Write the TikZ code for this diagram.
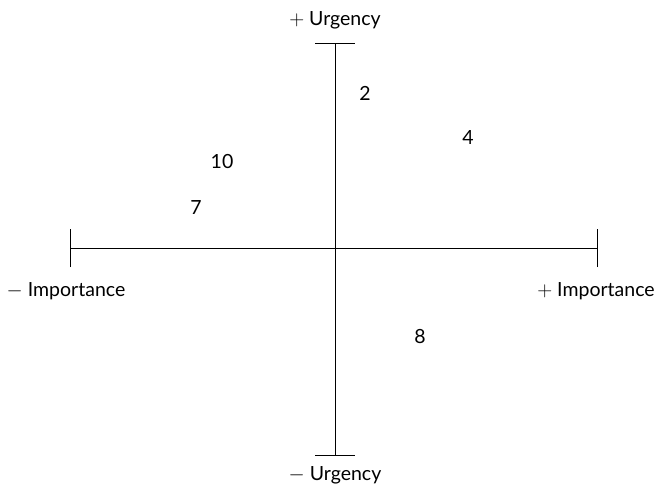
\documentclass[tikz,border=0pt]{standalone}
\usepackage{fontspec}
\setmainfont{Lato}
\begin{document}
\begin{tikzpicture}[x=1pt,y=-1pt,
  axis/.style={line width=1pt,black},
  lbl/.style={font=\fontsize{19.5}{22}\selectfont,inner sep=0pt},
  num/.style={font=\fontsize{19.5}{22}\selectfont,inner sep=0pt}]
\useasboundingbox (0,0) rectangle (657,488);
% axis end points
\coordinate (top) at (335,43);
\coordinate (bot) at (335,455);
\coordinate (lft) at (70,248);
\coordinate (rgt) at (597,248);
\draw[axis] (top) -- (bot);
\draw[axis] (lft) -- (rgt);
\draw[axis] ([xshift=-20]top) -- ([xshift=20]top);
\draw[axis] ([xshift=-20]bot) -- ([xshift=20]bot);
\draw[axis] ([yshift=-19]lft) -- ([yshift=19]lft);
\draw[axis] ([yshift=-19]rgt) -- ([yshift=19]rgt);
% labels
\node[lbl] (uplus) at (335,20) {$+$ Urgency};
\node[lbl] (uminus) at (335,475) {$-$ Urgency};
\node[lbl] (iminus) at (66,291) {$-$ Importance};
\node[lbl] (iplus) at (596,291) {$+$ Importance};
% numbers
\node[num] (n2) at (365,93) {2};
\node[num] (n4) at (468,138) {4};
\node[num] (n10) at (222,162) {10};
\node[num] (n7) at (196,208) {7};
\node[num] (n8) at (420,337) {8};
\end{tikzpicture}
\end{document}
